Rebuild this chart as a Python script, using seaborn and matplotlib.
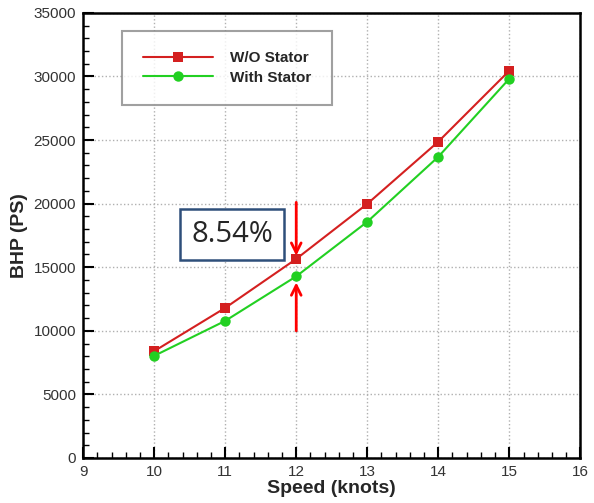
import matplotlib
matplotlib.use("Agg")
import matplotlib.pyplot as plt
import seaborn as sns
import pandas as pd
from matplotlib.ticker import MultipleLocator

speed = [10, 11, 12, 13, 14, 15]
wo_stator = [8400, 11800, 15650, 19980, 24870, 30450]
with_stator = [8030, 10780, 14280, 18570, 23680, 29820]
series_names = ["W/O Stator", "With Stator"]
annot_text = "8.54%"

sns.set_style("white")
plt.rcParams['font.family'] = ['Liberation Sans', 'DejaVu Sans']

df = pd.DataFrame({
    "Speed": speed * 2,
    "BHP": wo_stator + with_stator,
    "Series": [series_names[0]] * len(speed) + [series_names[1]] * len(speed),
})

fig = plt.figure(figsize=(5.94, 5.03), dpi=100)
ax = fig.add_axes([0.14, 0.0895, 0.837, 0.885])

palette = {series_names[0]: "#d42020", series_names[1]: "#22d022"}
markers = {series_names[0]: "s", series_names[1]: "o"}
sns.lineplot(data=df, x="Speed", y="BHP", hue="Series", style="Series",
             palette=palette, markers=markers, dashes=False, markersize=7,
             markeredgewidth=0, linewidth=1.5, ax=ax)
for ln in ax.get_lines():
    if ln.get_marker() == "s":
        ln.set_markersize(6.5)
    elif ln.get_marker() == "o":
        ln.set_markersize(7.5)

ax.set_xlim(9, 16)
ax.set_ylim(0, 35000)
ax.xaxis.set_major_locator(MultipleLocator(1))
ax.xaxis.set_minor_locator(MultipleLocator(0.2))
ax.yaxis.set_major_locator(MultipleLocator(5000))
ax.yaxis.set_minor_locator(MultipleLocator(1000))
ax.tick_params(which="both", bottom=True, left=True, top=False, right=False)
ax.tick_params(which="major", direction="in", length=8, width=1.5,
               labelsize=11, labelcolor="#333333", color="black", pad=5)
ax.tick_params(which="minor", direction="in", length=4, width=1, color="black")
ax.grid(True, which="major", linestyle=":", color="#b0b0b0", linewidth=1)
for s in ax.spines.values():
    s.set_color("black")
    s.set_linewidth(1.8)

ax.set_xlabel("Speed (knots)", fontsize=14, fontweight="bold", labelpad=1)
ax.set_ylabel("BHP (PS)", fontsize=14, fontweight="bold", labelpad=4)

leg = ax.legend(loc="upper left", bbox_to_anchor=(0.078, 0.96), fontsize=11,
                frameon=True, fancybox=False, edgecolor="#888888",
                borderpad=1.35, handlelength=4.6, labelspacing=0.35,
                handletextpad=1.1, borderaxespad=0)
leg.get_frame().set_linewidth(1.5)
for t in leg.get_texts():
    t.set_fontweight("bold")

ax.annotate("", xy=(12, 15900), xytext=(12, 20100),
            arrowprops=dict(arrowstyle="->,head_length=0.7,head_width=0.35",
                            color="red", lw=2, shrinkA=0, shrinkB=0))
ax.annotate("", xy=(12, 13800), xytext=(12, 10000),
            arrowprops=dict(arrowstyle="->,head_length=0.7,head_width=0.35",
                            color="red", lw=2, shrinkA=0, shrinkB=0))

ax.text(11.1, 17600, annot_text, fontsize=21, family=["Open Sans", "DejaVu Sans"],
        ha="center", va="center",
        bbox=dict(boxstyle="square,pad=0.38", facecolor="white",
                  edgecolor="#2e4f7a", linewidth=1.8))

fig.savefig("out.png", dpi=100)
